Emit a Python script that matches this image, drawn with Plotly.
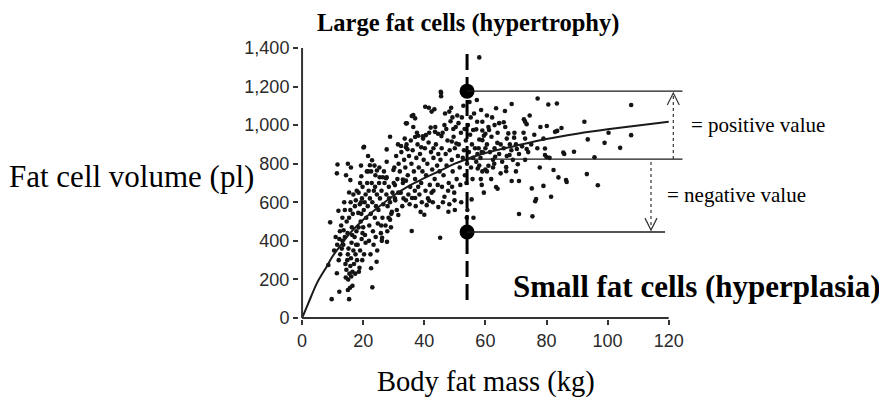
import plotly.graph_objects as go

# ---------------- data ----------------
# scatter: (body fat mass kg, fat cell volume pl), grouped by region of the cloud
outer_pts = [(58,1351),(45.5,1168),(45.5,1150),(40.3,1095),(42.4,1070),(43.3,1082),(48.2,1070),(36.4,1052),
             (37,1035),(34,1009),(42.1,987),(49.5,980),(43.5,965),(44.5,955),(28.8,940),(37,938),(38,945),
             (39.5,942),(40.5,948),(45.6,943),(49,915),(50.5,905),(32.4,892),(34,885),(34.5,875),(39,885),(43,880),
             (34.3,1009),(35.9,1047),(41.5,1090),(45.4,1173),(20.1,884),(27.7,874),(11.6,796)]
right_pts = [(57.2,1130),(58.6,1078),(63.5,1087),(66.4,1073),(68.6,1109),(77.1,1138),(80.6,1107),(83.4,1112),
             (57.3,1017),(59,1017),(63,1000),(64.5,1010),(66,1015),(61,990),(61.2,975),(72.6,1030),(73,1018),
             (73.5,1005),(80.1,995),(83.5,970),(82.8,965),(84.9,985),(56,975),(57,978),(59,972),(60,955),
             (59.5,945),(67.5,957),(67,930),(69.4,935),(73,930),(79,930),(58,925),(59,922),(63.9,908),
             (59.3,858),(70.3,876),(73.5,876),(79.5,879),(79.5,845),(80,835),(81,830),(63.2,836),(67.9,845),
             (61,789),(62.9,800),(66.8,782),(66.8,761),(70.6,797),(77.8,780),(82.3,767),(83.9,729),(58,790),
             (57.5,775),(60,770),(60.5,760),(59,760),(61.9,720),(68.6,710),(71,710),(63.5,679),(64,670),
             (58.5,720),(58.8,690),(59.5,650),(75.2,672),(79,685),(81.5,629),(76.6,617),(76.3,605),(55.5,615),
             (71,539),(75.4,527)]
far_pts = [(107.7,1104),(92.4,1017),(100.3,960),(107.7,948),(93.5,926),(99,908),(104.1,882),(85.5,858),
           (85.8,850),(89,862),(95.7,833),(86.4,715),(86.6,705),(93.2,746),(96.8,688)]
low_pts = [(9.7,98),(12.2,136),(15.4,98),(15.7,157),(16.5,167),(15,145),(23,159),(11.4,232),(8.6,275),
           (9.2,496),(11.9,556),(22.6,258),(24.4,292),(26.2,416),(27.8,395),(35.9,451),(45.2,416)]
upleft_pts = [(20.3,888),(21.6,840),(22.9,818),(15,800),(16,780),(19.3,790),(22.2,792),(11.4,750),(14.4,740),
              (19.4,735),(21.6,760),(24.5,765),(25.4,730),(27.7,730),(15.8,715),(15.4,651),(15.8,560)]
mid_pts = [(27.7,810),(29.9,767),(27.5,725),(30.4,689),(33,718),(34,712),(38,680),(36,622),(37,622),(34,610),
           (41.2,620),(41.6,608),(43,660),(46.6,629),(49.1,680),(49.9,610),(40.8,585),(44.6,575),(47.9,551),
           (50,560),(38.8,550),(40,535),(31.5,534),(29.4,550),(28.3,520),(28.8,510)]
cluster_a = [(12,300),(12.5,330),(13,360),(13.2,400),(13.5,380),(14,420),(14.2,280),(14.5,250),(14.8,300),
             (15,330),(15.2,360),(15.5,230),(15.8,270),(16,310),(16.2,390),(16.5,240),(16.8,350),(17,280),
             (17.2,420),(17.5,330),(17.8,450),(18,300),(18.2,380),(18.5,470),(18.8,260),(19,350),(19.2,500),
             (19.5,410),(19.8,440),(13.6,455),(12.8,480),(14.6,500),(15.4,520),(16.3,470),(16.6,540),(17.3,580),
             (17.6,610),(18.4,545),(18.9,590),(19.6,620),(13.2,520),(14,560),(11.5,380),(11,420),(12.2,410),
             (10.5,350),(13.8,600),(15.9,600),(16.8,640),(17.9,660),(19.4,540),(20,470),(14.3,210),(15.1,200),
             (16.1,215),(17.4,230),(18.6,240),(19.7,300),(20.3,330),(20.8,390),(14.9,440),(16.4,430),(17.7,380),
             (12.4,450)]
cluster_b = [(18.5,650),(19,700),(19.8,680),(20.2,560),(20.5,600),(20.8,640),(21,520),(21.3,700),(21.5,580),
             (21.8,660),(22,480),(22.2,620),(22.5,540),(22.8,700),(23,600),(23.2,450),(23.5,660),(23.8,520),
             (24,740),(24.2,580),(24.5,640),(24.8,490),(25,560),(25.2,700),(25.5,620),(25.8,440),(26,660),
             (26.3,520),(26.6,590),(27,700),(27.3,480),(27.6,640),(28,580),(28.4,680),(28.8,600),(29.2,540),
             (29.6,650),(30,700),(21.2,760),(22.6,760),(23.7,790),(25.3,780),(26.8,760),(20.6,430),(21.9,400),
             (23.4,380),(24.6,350),(25.9,480),(27.9,450),(29.1,470),(22.4,330),(26.1,400),(28.5,620),(19.3,600),
             (23.9,680),(26.4,730),(24.1,420),(30.5,610),(31,560),(31.5,650)]
cluster_c = [(30.2,780),(30.8,840),(31.2,720),(31.6,800),(32,760),(32.5,860),(33,700),(33.4,820),(33.8,780),
             (34.2,900),(34.6,740),(35,840),(35.4,680),(35.8,800),(36.2,870),(36.6,760),(37,720),(37.4,830),
             (37.8,900),(38.2,780),(38.6,850),(39,700),(39.4,760),(39.8,820),(40.2,880),(40.6,740),(41,800),
             (41.4,910),(41.8,690),(42.2,860),(42.6,770),(43,830),(43.4,720),(43.8,900),(44.2,790),(44.6,850),
             (45,760),(32.3,650),(34.8,640),(36.9,660),(38.4,640),(40.4,660),(42.4,650),(44.4,690),(31.4,900),
             (33.6,930),(35.6,920),(37.6,960),(39.6,930),(41.6,960),(43.6,990),(36.4,990),(33.2,620),(35.2,590),
             (37.2,580),(39.2,600),(32.8,580),(30.4,620),(42.8,600)]
cluster_d = [(45.3,820),(45.7,880),(46,960),(46.3,740),(46.6,1000),(47,850),(47.3,790),(47.6,920),(48,700),
             (48.3,870),(48.6,1020),(49,820),(49.3,760),(49.6,940),(50,880),(50.3,990),(50.6,720),(51,840),
             (51.3,900),(51.6,780),(52,960),(52.3,1040),(52.6,830),(53,870),(53.3,740),(53.6,920),(54,800),
             (54.3,1000),(54.6,860),(55,950),(55.3,780),(55.6,900),(56,830),(56.3,1060),(56.6,880),(57,810),
             (57.4,850),(45.8,680),(47.8,660),(49.8,650),(51.8,690),(53.8,700),(55.8,720),(46.8,1060),(48.8,1090),
             (50.8,1050),(52.8,1100),(54.8,1120),(51.2,1010),(53.2,980),(47.2,980),(49.2,1040),(55.2,1040),
             (57.8,880),(58.4,830),(58.8,860),(46.1,600),(48.2,590),(52.1,600),(54.1,560),(56.1,520),(54.3,470),
             (53.9,520)]
cluster_e = [(60,880),(60.5,900),(61.5,860),(62,940),(62.5,820),(63,880),(64,960),(64.5,850),(65,900),
             (65.5,810),(66,880),(66.5,990),(67,840),(68,900),(68.5,870),(69,820),(69.5,960),(70,900),(71,850),
             (72,890),(72.5,960),(73,820),(74,860),(75,900),(76,950),(77,880),(78,990),(62.5,780),(65,750),
             (70,760),(74.5,1050),(60.5,1050),(62.2,1040)]

# fitted curve
curve_x = [0, 2, 5, 8, 10, 13, 16, 20, 25, 30, 35, 40, 45, 50, 54, 60, 70, 80, 90, 100, 110, 120]
curve_y = [0, 75, 185, 265, 320, 385, 445, 510, 575, 635, 685, 725, 762, 800, 824, 855, 893, 928, 955, 978, 998, 1017]

# reference values
split_mass = 54          # vertical dashed line
large_cell = 1176        # example large fat cell
expected_cell = 824      # curve value at split_mass
small_cell = 446         # example small fat cell
x_ticks = [0, 20, 40, 60, 80, 100, 120]
y_ticks = [0, 200, 400, 600, 800, 1000, 1200, 1400]

# ---------------- figure ----------------
all_pts = outer_pts + right_pts + far_pts + low_pts + upleft_pts + mid_pts + cluster_a + cluster_b + cluster_c + cluster_d + cluster_e
px_ = [p[0] for p in all_pts]
py_ = [p[1] for p in all_pts]

# page body has an 8px margin, so the figure is drawn at (8, 8) in the window
OFF = 8
W, H = 887 - OFF, 403 - OFF
L, R, T, B = 299 - OFF, 684 - OFF, 46 - OFF, 319 - OFF

def xp(px):  # window pixel -> paper
    return (px - OFF - L) / (R - L)

def yp(py):
    return (B - (py - OFF)) / (B - T)

fig = go.Figure()
fig.add_trace(go.Scatter(x=px_, y=py_, mode="markers",
                         marker=dict(size=4.6, color="#141414"), hoverinfo="skip"))
fig.add_trace(go.Scatter(x=curve_x, y=curve_y, mode="lines", line=dict(color="#1a1a1a", width=2, shape="spline"),
                         hoverinfo="skip"))

ink = "#1a1a1a"
shapes = []
# axis lines
shapes.append(dict(type="line", xref="x", yref="y", x0=0, x1=0, y0=0, y1=y_ticks[-1], line=dict(color="#333", width=2)))
shapes.append(dict(type="line", xref="x", yref="y", x0=0, x1=x_ticks[-1], y0=0, y1=0, line=dict(color="#333", width=2)))
# dashed split line
shapes.append(dict(type="line", xref="x", yref="y", x0=split_mass, x1=split_mass, y0=93, y1=1390,
                   line=dict(color="black", width=3, dash="16px,7px")))
# horizontal reference lines
shapes.append(dict(type="line", xref="x", yref="y", x0=split_mass, x1=124.5, y0=large_cell, y1=large_cell,
                   line=dict(color=ink, width=1.3)))
shapes.append(dict(type="line", xref="x", yref="y", x0=split_mass, x1=124.5, y0=expected_cell, y1=expected_cell,
                   line=dict(color=ink, width=1.3)))
shapes.append(dict(type="line", xref="x", yref="y", x0=split_mass, x1=118.8, y0=small_cell, y1=small_cell,
                   line=dict(color=ink, width=1.3)))
# dotted arrows
ax_pos, ax_neg = 121.5, 114.2
shapes.append(dict(type="line", xref="x", yref="y", x0=ax_pos, x1=ax_pos, y0=expected_cell, y1=large_cell - 15,
                   line=dict(color="#333", width=1.2, dash="dot")))
shapes.append(dict(type="line", xref="x", yref="y", x0=ax_neg, x1=ax_neg, y0=expected_cell - 15, y1=small_cell + 20,
                   line=dict(color="#333", width=1.2, dash="dot")))
shapes.append(dict(type="path", xref="x", yref="y", xsizemode="pixel", ysizemode="pixel",
                   xanchor=ax_pos, yanchor=large_cell - 20, path="M -6,-10 L 0,2 L 6,-10",
                   line=dict(color="#333", width=1.2)))
shapes.append(dict(type="path", xref="x", yref="y", xsizemode="pixel", ysizemode="pixel",
                   xanchor=ax_neg, yanchor=small_cell + 20, path="M -6,10 L 0,-2 L 6,10",
                   line=dict(color="#333", width=1.2)))

fig.add_trace(go.Scatter(x=[split_mass, split_mass], y=[large_cell, small_cell], mode="markers",
                         marker=dict(size=15, color="black"), hoverinfo="skip"))

serif = "Liberation Serif, Times New Roman, serif"
annotations = [
    dict(text="<b>Large fat cells (hypertrophy)</b>", x=xp(468), y=yp(23), xanchor="center", yanchor="middle",
         font=dict(family=serif, size=24.5, color="black")),
    dict(text="<b>Small fat cells (hyperplasia)</b>", x=xp(697), y=yp(286), xanchor="center", yanchor="middle",
         font=dict(family=serif, size=31, color="black")),
    dict(text="= positive value", x=xp(690), y=yp(125), xanchor="left", yanchor="middle",
         font=dict(family=serif, size=21, color="black")),
    dict(text="= negative value", x=xp(666), y=yp(195), xanchor="left", yanchor="middle",
         font=dict(family=serif, size=21, color="black")),
    dict(text="Fat cell volume (pl)", x=xp(8), y=yp(176), xanchor="left", yanchor="middle",
         font=dict(family=serif, size=31, color="black")),
    dict(text="Body fat mass (kg)", x=xp(486), y=yp(382), xanchor="center", yanchor="middle",
         font=dict(family=serif, size=28.5, color="black")),
]
for a in annotations:
    a.update(xref="paper", yref="paper", showarrow=False, borderpad=0)

tickfont = dict(family="Liberation Sans, Arial, sans-serif", size=18, color="#2a2a2a")
fig.update_layout(
    width=W, height=H, autosize=False,
    margin=dict(l=L, r=W - R, t=T, b=H - B, pad=0),
    plot_bgcolor="white", paper_bgcolor="white",
    showlegend=False,
    shapes=shapes, annotations=annotations,
    xaxis=dict(range=[-1, 125], tickvals=x_ticks, ticks="outside", ticklen=5, tickwidth=2, tickcolor="#333",
               showgrid=False, zeroline=False, showline=False, tickfont=tickfont),
    yaxis=dict(range=[-5, 1410], tickvals=y_ticks, tickformat=",", ticks="outside", ticklen=5, tickwidth=2,
               tickcolor="#333", showgrid=False, zeroline=False, showline=False, tickfont=tickfont),
)
fig.write_html("out.html")
